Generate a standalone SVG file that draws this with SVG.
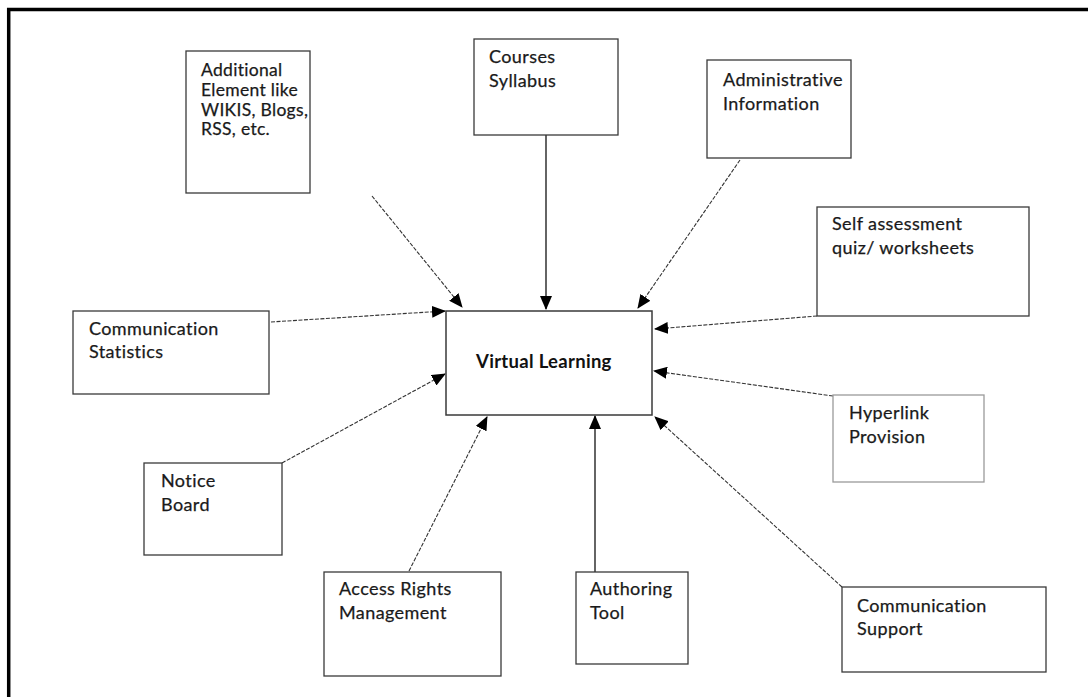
<svg xmlns="http://www.w3.org/2000/svg" width="1088" height="697" viewBox="0 0 1088 697">
<style>
.box{fill:#fff;stroke:#3a3a3a;stroke-width:1.3}
.lt{stroke:#9a9a9a}
.t{font-family:Lato,"Liberation Sans",Arial,sans-serif;font-size:18px;letter-spacing:0.4px;fill:#1a1a1a;stroke:#1a1a1a;stroke-width:0.25}
.sm{font-size:17.5px;letter-spacing:0.3px}
.b{font-weight:bold;font-size:18.5px;letter-spacing:0.3px;fill:#111;stroke:none}
.c{fill:none;stroke:#333;stroke-width:1.1;stroke-dasharray:4 1.5}
.s{fill:none;stroke:#111;stroke-width:1.3}
</style>
<defs>
<marker id="ah" markerUnits="userSpaceOnUse" markerWidth="14" markerHeight="12" viewBox="0 0 14 12" refX="13" refY="6" orient="auto">
<path d="M0,0 L14,6 L0,12 Z" fill="#000"/>
</marker>
</defs>
<rect width="1088" height="697" fill="#fff"/>
<g id="frame">
<line x1="7" y1="9.5" x2="1088" y2="9.5" stroke="#000" stroke-width="3.5"/>
<line x1="8.7" y1="8" x2="8.7" y2="697" stroke="#000" stroke-width="3.5"/>
</g>
<g id="connectors">
<line class="c" x1="372" y1="196" x2="462" y2="307" marker-end="url(#ah)"/>
<line class="s" x1="546" y1="135" x2="546" y2="309" marker-end="url(#ah)"/>
<line class="c" x1="740" y1="160" x2="638" y2="308" marker-end="url(#ah)"/>
<line class="c" x1="817" y1="316" x2="655" y2="329" marker-end="url(#ah)"/>
<line class="c" x1="271" y1="322" x2="445" y2="311" marker-end="url(#ah)"/>
<line class="c" x1="282" y1="463" x2="445" y2="374" marker-end="url(#ah)"/>
<line class="c" x1="409" y1="571" x2="487" y2="417" marker-end="url(#ah)"/>
<line class="s" x1="595" y1="572" x2="595" y2="416" marker-end="url(#ah)"/>
<line class="c" x1="833" y1="396" x2="654" y2="371" marker-end="url(#ah)"/>
<line class="c" x1="842" y1="587" x2="655" y2="417" marker-end="url(#ah)"/>
</g>
<g id="n-additional">
<rect class="box" x="186" y="51" width="124" height="142"/>
<text class="t sm" x="201" y="76">Additional</text>
<text class="t sm" x="201" y="96">Element like</text>
<text class="t sm" x="201" y="116">WIKIS, Blogs,</text>
<text class="t sm" x="201" y="135">RSS, etc.</text>
</g>
<g id="n-courses">
<rect class="box" x="474" y="39" width="144" height="96"/>
<text class="t" x="489" y="63">Courses</text>
<text class="t" x="489" y="87">Syllabus</text>
</g>
<g id="n-admin">
<rect class="box" x="707" y="60" width="144" height="98"/>
<text class="t" x="723" y="86">Administrative</text>
<text class="t" x="723" y="110">Information</text>
</g>
<g id="n-self">
<rect class="box" x="817" y="207" width="212" height="109"/>
<text class="t" x="832" y="230">Self assessment</text>
<text class="t" x="832" y="254">quiz/ worksheets</text>
</g>
<g id="n-virtual">
<rect class="box" x="446" y="311" width="206" height="104" style="stroke-width:1.5"/>
<text class="t b" x="476" y="368">Virtual Learning</text>
</g>
<g id="n-commstats">
<rect class="box" x="73" y="311" width="196" height="83"/>
<text class="t" x="89" y="335">Communication</text>
<text class="t" x="89" y="358">Statistics</text>
</g>
<g id="n-notice">
<rect class="box" x="144" y="463" width="138" height="92"/>
<text class="t" x="161" y="487">Notice</text>
<text class="t" x="161" y="511">Board</text>
</g>
<g id="n-hyperlink">
<rect class="box lt" x="833" y="395" width="151" height="87"/>
<text class="t" x="849" y="419">Hyperlink</text>
<text class="t" x="849" y="443">Provision</text>
</g>
<g id="n-commsupport">
<rect class="box" x="842" y="587" width="204" height="85"/>
<text class="t" x="857" y="612">Communication</text>
<text class="t" x="857" y="635">Support</text>
</g>
<g id="n-access">
<rect class="box" x="324" y="572" width="177" height="104"/>
<text class="t" x="339" y="595">Access Rights</text>
<text class="t" x="339" y="619">Management</text>
</g>
<g id="n-authoring">
<rect class="box" x="576" y="572" width="112" height="92"/>
<text class="t" x="590" y="595">Authoring</text>
<text class="t" x="590" y="619">Tool</text>
</g>
</svg>
